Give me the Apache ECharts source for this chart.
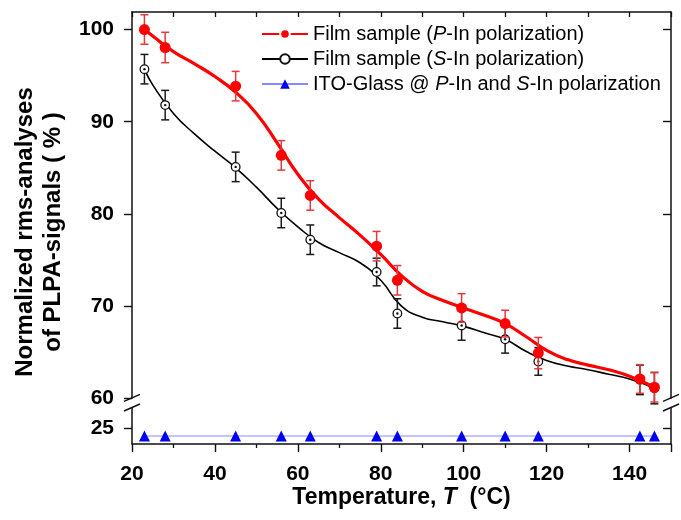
<!DOCTYPE html>
<html>
<head>
<meta charset="utf-8">
<script src="https://cdn.jsdelivr.net/npm/echarts@6/dist/echarts.min.js"></script>
<style>
  html, body { margin: 0; padding: 0; background: #fff; }
  #chart { width: 681px; height: 520px; }
</style>
</head>
<body>
<div id="chart"></div>
<script>
// Measured temperatures (°C)
const temps = [23, 28, 45, 56, 63, 79, 84, 99.5, 110, 118, 142.5, 146];

// Film sample, P-In polarization: normalized rms values and error bars (%)
const pInValues = [100.0, 98.05, 93.86, 86.35, 82.0, 76.5, 72.8, 69.8, 68.1, 64.9, 62.1, 61.2];
const pInErrors = [1.6, 1.65, 1.6, 1.6, 1.6, 1.6, 1.6, 1.55, 1.45, 1.7, 1.55, 1.6];

// Film sample, S-In polarization
const sInValues = [95.7, 91.8, 85.1, 80.1, 77.2, 73.7, 69.2, 67.9, 66.4, 64.0, 62.0, 61.1];
const sInErrors = [1.6, 1.6, 1.6, 1.6, 1.6, 1.5, 1.6, 1.6, 1.5, 1.5, 1.6, 1.7];

// ITO glass reference (lower, broken part of the axis)
const itoValues = [24, 24, 24, 24, 24, 24, 24, 24, 24, 24, 24, 24];

// Smoothed trend curves
const curveT = [23, 25, 30, 35, 40, 45, 50, 55, 60, 65, 70, 75, 80, 85, 90, 95, 100, 105, 110, 115, 120, 125, 130, 135, 140, 146];
const pCurveV = [100.0, 99.3, 97.6, 96.3, 94.9, 93.2, 90.9, 87.7, 84.3, 81.6, 79.6, 77.7, 75.6, 73.3, 71.6, 70.6, 69.8, 69.0, 68.1, 66.7, 65.2, 64.2, 63.6, 63.1, 62.4, 61.2];
const sCurveV = [95.7, 94.0, 90.9, 88.7, 86.8, 85.0, 82.9, 80.6, 78.6, 76.9, 75.8, 74.7, 72.8, 70.0, 68.8, 68.3, 67.8, 67.1, 66.4, 65.1, 64.1, 63.5, 63.1, 62.6, 62.1, 61.1];

// Tick labels
const upperTicks = [60, 70, 80, 90, 100];
const lowerTicks = [25];

const names = [
  'Film sample (P-In polarization)',
  'Film sample (S-In polarization)',
  'ITO-Glass @ P-In and S-In polarization'
];

const FONT = "'Liberation Sans', Arial, sans-serif";
const AXIS_COLOR = '#111';

// layout
const LEFT = 132, RIGHT = 10;
const UP_TOP = 12, UP_H = 386.3;
const LO_TOP = 408, LO_H = 36;

const pairs = (xs, ys) => xs.map((x, i) => [x, ys[i]]);
const triples = (xs, ys, es) => xs.map((x, i) => [x, ys[i], es[i]]);

function errorMarker(kind) {
  return function (params, api) {
    const x = api.value(0), y = api.value(1), e = api.value(2);
    const c = api.coord([x, y]);
    const t = api.coord([x, y + e]);
    const b = api.coord([x, y - e]);
    const cap = 4;
    const barColor = kind === 'p' ? '#e23a3a' : '#1a1a1a';
    const barStyle = { stroke: barColor, lineWidth: 1.5 };
    const children = [
      { type: 'line', shape: { x1: c[0], y1: t[1], x2: c[0], y2: b[1] }, style: barStyle },
      { type: 'line', shape: { x1: c[0] - cap, y1: t[1], x2: c[0] + cap, y2: t[1] }, style: barStyle },
      { type: 'line', shape: { x1: c[0] - cap, y1: b[1], x2: c[0] + cap, y2: b[1] }, style: barStyle }
    ];
    if (kind === 'p') {
      children.push({ type: 'circle', shape: { cx: c[0], cy: c[1], r: 5.5 }, style: { fill: '#ff0000' } });
    } else {
      children.push({ type: 'circle', shape: { cx: c[0], cy: c[1], r: 4.3 }, style: { fill: '#fff', stroke: '#111', lineWidth: 1.3 } });
      children.push({ type: 'circle', shape: { cx: c[0], cy: c[1], r: 1.2 }, style: { fill: '#111' } });
    }
    return { type: 'group', children: children };
  };
}

const chart = echarts.init(document.getElementById('chart'), null, { renderer: 'canvas' });

// axis-break marks on both vertical frame lines
function breakMarks(x) {
  const yA = UP_TOP + UP_H, yB = LO_TOP;
  const mk = (y) => ({
    type: 'line', silent: true,
    shape: { x1: x - 8, y1: y + 3.5, x2: x + 8, y2: y - 3.5 },
    style: { stroke: AXIS_COLOR, lineWidth: 1.4 }
  });
  return [mk(yA - 0.5), mk(yB - 0.5)];
}

const plotRight = 681 - RIGHT;

chart.setOption({
  animation: false,
  backgroundColor: '#fff',
  grid: [
    { left: LEFT, right: RIGHT, top: UP_TOP, height: UP_H },
    { left: LEFT, right: RIGHT, top: LO_TOP, height: LO_H }
  ],
  xAxis: [
    {
      gridIndex: 0, type: 'value', position: 'top', min: 20, max: 150, interval: 10,
      axisLine: { show: true, lineStyle: { color: AXIS_COLOR, width: 1.5 } },
      axisTick: { show: true, inside: true, length: 5, lineStyle: { color: AXIS_COLOR, width: 1.3 } },
      axisLabel: { show: false }, splitLine: { show: false }
    },
    {
      gridIndex: 1, type: 'value', position: 'bottom', min: 20, max: 150, interval: 20,
      axisLine: { show: true, onZero: false, lineStyle: { color: AXIS_COLOR, width: 1.5 } },
      axisTick: { show: true, inside: false, length: 8, lineStyle: { color: AXIS_COLOR, width: 1.4 } },
      minorTick: { show: true, splitNumber: 2, length: 4, lineStyle: { color: AXIS_COLOR, width: 1.3 } },
      axisLabel: {
        show: true, margin: 20, color: '#000', fontFamily: FONT, fontWeight: 'bold', fontSize: 21,
        showMaxLabel: false
      },
      splitLine: { show: false },
      name: 'Temperature, {i|T}  (°C)',
      nameLocation: 'middle', nameGap: 29,
      nameTextStyle: {
        color: '#000', fontFamily: FONT, fontWeight: 'bold', fontSize: 23,
        rich: { i: { fontStyle: 'italic', fontWeight: 'bold', fontFamily: FONT, fontSize: 23, color: '#000' } }
      }
    }
  ],
  yAxis: [
    {
      gridIndex: 0, type: 'value', position: 'left', min: 60, max: 101.9, interval: 10,
      axisLine: { show: true, onZero: false, lineStyle: { color: AXIS_COLOR, width: 1.5 } },
      axisTick: { show: true, inside: false, length: 8, customValues: upperTicks, lineStyle: { color: AXIS_COLOR, width: 1.4 } },
      axisLabel: {
        show: true, margin: 18, customValues: upperTicks,
        color: '#000', fontFamily: FONT, fontWeight: 'bold', fontSize: 21
      },
      splitLine: { show: false }
    },
    {
      gridIndex: 0, type: 'value', position: 'right', min: 60, max: 101.9, interval: 10,
      axisLine: { show: true, onZero: false, lineStyle: { color: AXIS_COLOR, width: 1.5 } },
      axisTick: { show: true, inside: true, length: 8, customValues: [70, 80, 90, 100], lineStyle: { color: AXIS_COLOR, width: 1.4 } },
      axisLabel: { show: false }, splitLine: { show: false }
    },
    {
      gridIndex: 1, type: 'value', position: 'left', min: 23, max: 27.5,
      axisLine: { show: true, onZero: false, lineStyle: { color: AXIS_COLOR, width: 1.5 } },
      axisTick: { show: true, inside: false, length: 8, customValues: lowerTicks, lineStyle: { color: AXIS_COLOR, width: 1.4 } },
      axisLabel: {
        show: true, margin: 18, customValues: lowerTicks,
        color: '#000', fontFamily: FONT, fontWeight: 'bold', fontSize: 21
      },
      splitLine: { show: false }
    },
    {
      gridIndex: 1, type: 'value', position: 'right', min: 23, max: 27.5,
      axisLine: { show: true, onZero: false, lineStyle: { color: AXIS_COLOR, width: 1.5 } },
      axisTick: { show: true, inside: true, length: 8, customValues: lowerTicks, lineStyle: { color: AXIS_COLOR, width: 1.4 } },
      axisLabel: { show: false }, splitLine: { show: false }
    }
  ],
  legend: {
    orient: 'vertical', left: 256, top: 19,
    itemWidth: 46, itemHeight: 12, itemGap: 5,
    selectedMode: false,
    textStyle: {
      color: '#000', fontFamily: FONT, fontSize: 20,
      rich: { i: { fontStyle: 'italic', fontFamily: FONT, fontSize: 20, color: '#000' } }
    },
    formatter: (name) => name.replace(/(P|S)-In/g, '{i|$1}-In'),
    data: [
      { name: names[0], itemStyle: { color: '#ff0000', borderColor: '#fff', borderWidth: 2 } },
      { name: names[1], itemStyle: { color: '#111', borderColor: '#111', borderWidth: 1.3 } },
      { name: names[2], itemStyle: { color: '#0000ee' } }
    ]
  },
  series: [
    {
      name: names[1], type: 'line', xAxisIndex: 0, yAxisIndex: 0,
      data: pairs(curveT, sCurveV), smooth: true,
      symbol: 'emptyCircle', symbolSize: 8, showSymbol: false,
      lineStyle: { color: '#000', width: 1.6 }, itemStyle: { color: '#111' }, z: 2
    },
    {
      type: 'custom', xAxisIndex: 0, yAxisIndex: 0,
      data: triples(temps, sInValues, sInErrors),
      renderItem: errorMarker('s'), z: 3
    },
    {
      name: names[0], type: 'line', xAxisIndex: 0, yAxisIndex: 0,
      data: pairs(curveT, pCurveV), smooth: true,
      symbol: 'circle', symbolSize: 10, showSymbol: false,
      lineStyle: { color: '#ff0000', width: 3.2 }, itemStyle: { color: '#ff0000' }, z: 4
    },
    {
      type: 'custom', xAxisIndex: 0, yAxisIndex: 0,
      data: triples(temps, pInValues, pInErrors),
      renderItem: errorMarker('p'), z: 5
    },
    {
      name: names[2], type: 'line', xAxisIndex: 1, yAxisIndex: 2,
      data: pairs(temps, itoValues),
      symbol: 'triangle', symbolSize: 11,
      lineStyle: { color: '#8a8aff', width: 1.2 },
      itemStyle: { color: '#0000ee' }, z: 4
    }
  ],
  graphic: [
    {
      type: 'text', silent: true,
      x: 39, y: 232, rotation: Math.PI / 2,
      style: {
        text: 'Normalized rms-analyses\nof PLPA-signals ( % )',
        fill: '#000', font: 'bold 24px ' + FONT,
        align: 'center', verticalAlign: 'middle', lineHeight: 28
      }
    }
  ].concat(breakMarks(LEFT), breakMarks(plotRight))
});
</script>
</body>
</html>
